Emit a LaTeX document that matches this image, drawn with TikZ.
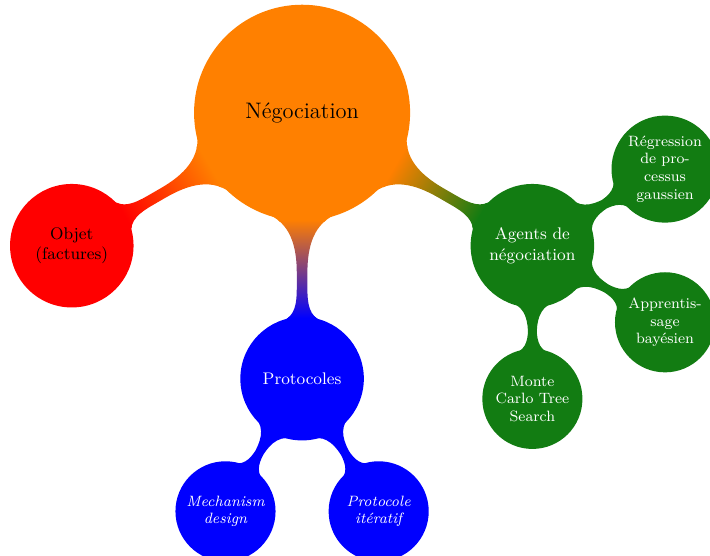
\documentclass[tikz,border=0pt]{standalone}
\usetikzlibrary{mindmap}
\definecolor{agentgreen}{RGB}{18,124,18}
\tikzset{
  rootc/.style={concept, text width=, align=center, inner sep=1pt, minimum size=4.02cm, font=\large, text=black},
  lvlone/.style={concept, text width=, align=center, inner sep=1pt, minimum size=2.28cm, font=\small},
  lvltwo/.style={concept, text width=, align=center, inner sep=1pt, minimum size=1.84cm, font=\footnotesize, text=white},
  lvltwoit/.style={lvltwo, font=\footnotesize\itshape},
}
\begin{document}
\begin{tikzpicture}[mindmap, concept color=orange,
  level 1/.append style={level distance=5cm},
  level 2/.append style={level distance=2.88cm}]
\useasboundingbox (-5.68,-8.33) rectangle (7.67,2.12);
\node[rootc] (neg) {Négociation}
  child[grow=210, concept color=red] {node[lvlone, text=black] (obj) {Objet\\(factures)}}
  child[grow=270, concept color=blue] {node[lvlone, text=white] (proto) {Protocoles}
    child[grow=240] {node[lvltwoit] (mech) {Mechanism\\design}}
    child[grow=300] {node[lvltwoit] (iter) {Protocole\\itératif}}}
  child[grow=330, concept color=agentgreen] {node[lvlone, text=white] (agents) {Agents de\\négociation}
    child[grow=270] {node[lvltwo] (mcts) {Monte\\Carlo Tree\\Search}}
    child[grow=330] {node[lvltwo] (bayes) {Apprentis-\\sage\\bayésien}}
    child[grow=30] {node[lvltwo] (gp) {Régression\\de pro-\\cessus\\gaussien}}};
\end{tikzpicture}
\end{document}
